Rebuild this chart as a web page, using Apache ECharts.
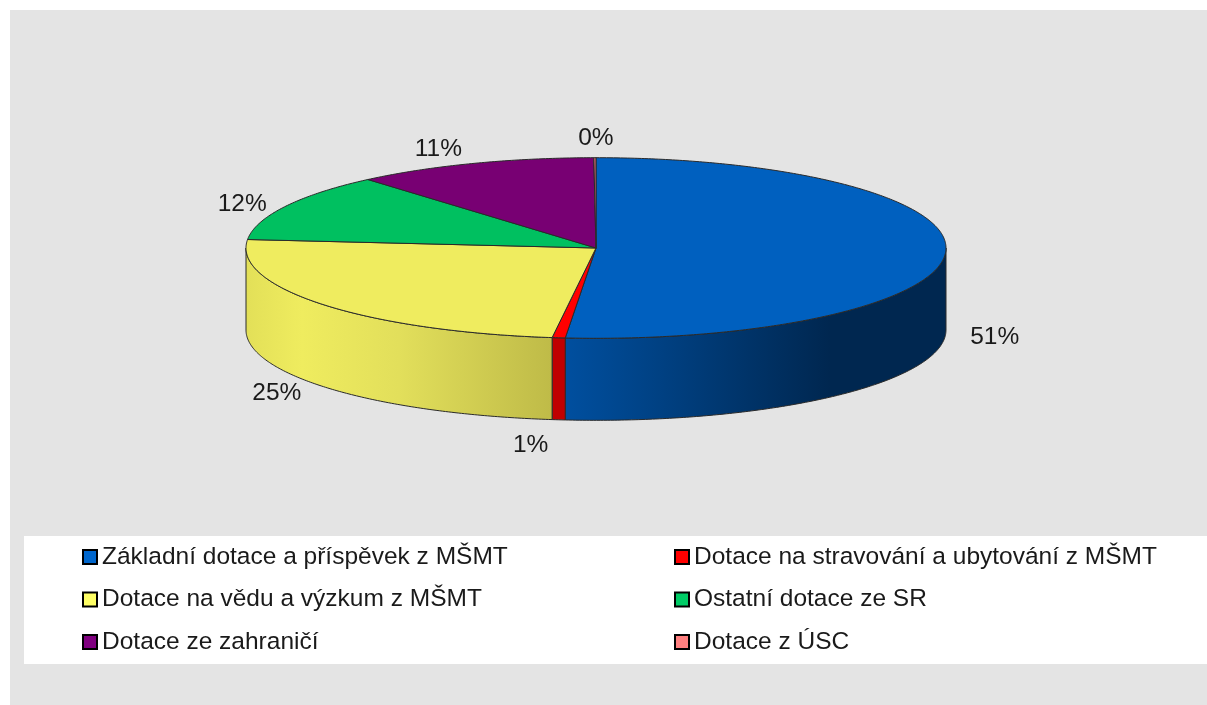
<!DOCTYPE html>
<html><head><meta charset="utf-8">
<style>html,body{margin:0;padding:0;background:#fff}#c{width:1207px;height:705px}</style>
<script src="https://cdn.jsdelivr.net/npm/echarts@6/dist/echarts.min.js"></script>
</head><body><div id="c"></div>
<script>
const categories = ['Základní dotace a příspěvek z MŠMT','Dotace na stravování a ubytování z MŠMT','Dotace na vědu a výzkum z MŠMT','Ostatní dotace ze SR','Dotace ze zahraničí','Dotace z ÚSC'];
const shares = [51.4, 0.6, 24.5, 12.2, 11.2, 0.1];

const topColors = ['#0060BF','#FF0000','#EFEC5F','#00C060','#780073','#E07070'];
const swatchColors = ['#0066CC','#FF0000','#FFFF66','#00CC66','#800080','#FF8080'];
const wallStops = [
  [[0,'#004F9F'],[1,'#002750']],
  [[0,'#C00000'],[1,'#C00000']],
  [[0,'#E3E058'],[0.18,'#EFEC5F'],[0.5,'#E2DF5B'],[1,'#BFBB48']],
  null,null,null
];
const wallRange = [[565,830],[551,565],[247,551],null,null,null];
const labelShift = [[49,85],[-28,107],[-46,89],[-43,-2],[-35,-14],[1,-19]];

const CX=596, CY=248, RX=350, RY=90.3, DEPTH=82;
const total = shares.reduce((a,b)=>a+b,0);
const starts = []; shares.reduce((acc,v,i)=>{starts[i]=acc;return acc+v;},0);
const rad = v => v/total*2*Math.PI;
const rim = (t,d=0) => [CX+RX*Math.sin(t), CY-RY*Math.cos(t)+d];
function arc(a,b,d){const n=Math.max(2,Math.ceil((b-a)/0.01));const p=[];for(let i=0;i<=n;i++)p.push(rim(a+(b-a)*i/n,d));return p;}

const stroke = '#2a2a2a';
function renderSlice(i){
  const a=rad(starts[i]), b=rad(starts[i]+shares[i]);
  const children=[];
  const wa=Math.max(a,Math.PI/2), wb=Math.min(b,3*Math.PI/2);
  if(wb>wa && wallStops[i]){
    const top=arc(wa,wb,0), bot=arc(wa,wb,DEPTH).reverse();
    const r=wallRange[i];
    const fill = {type:'linear',x:r[0],y:0,x2:r[1],y2:0,global:true,
      colorStops:wallStops[i].map(s=>({offset:s[0],color:s[1]}))};
    children.push({type:'polygon',shape:{points:top.concat(bot)},style:{fill,stroke,lineWidth:1}});
  }
  const pts=[[CX,CY]].concat(arc(a,b,0));
  children.push({type:'polygon',shape:{points:pts},style:{fill:topColors[i],stroke,lineWidth:1}});
  const m=rim((a+b)/2), s=labelShift[i];
  children.push({type:'text',style:{text:Math.round(shares[i])+'%',x:m[0]+s[0],y:m[1]+s[1],
    align:'center',verticalAlign:'middle',fill:'#1a1a1a',font:'24.5px "Liberation Sans"'}});
  return {type:'group',children};
}
const series = categories.map((name,i)=>({
  name,type:'custom',coordinateSystem:'none',data:[shares[i]],silent:true,animation:false,
  itemStyle:{color:topColors[i]},
  renderItem:()=>renderSlice(i)
}));
const legendCommon={orient:'vertical',icon:'rect',itemWidth:14,itemHeight:14,itemGap:14.5,selectedMode:false,
  itemStyle:{borderColor:'#000',borderWidth:2},
  textStyle:{fontFamily:'Liberation Sans',fontSize:24.5,color:'#1a1a1a',lineHeight:28},padding:0};
const legendData=idx=>idx.map(i=>({name:categories[i],itemStyle:{color:swatchColors[i]}}));
const chart=echarts.init(document.getElementById('c'),null,{renderer:'canvas'});
chart.setOption({
  animation:false,backgroundColor:'#fff',
  graphic:[
    {type:'rect',z:-10,shape:{x:10,y:10,width:1197,height:695},style:{fill:'#E4E4E4'},silent:true},
    {type:'rect',z:-9,shape:{x:24,y:536,width:1183,height:128},style:{fill:'#fff'},silent:true}
  ],
  legend:[
    Object.assign({},legendCommon,{left:82,top:543,data:legendData([0,2,4])}),
    Object.assign({},legendCommon,{left:674,top:543,data:legendData([1,3,5])})
  ],
  series
});
</script></body></html>
